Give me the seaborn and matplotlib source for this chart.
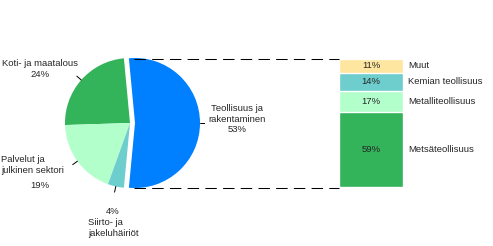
import matplotlib
matplotlib.use("Agg")
import matplotlib.pyplot as plt
import seaborn as sns
import numpy as np
import pandas as pd
from matplotlib.lines import Line2D

sns.set_theme(style="white")
plt.rcParams['font.family'] = ['Liberation Sans', 'DejaVu Sans']

# Pie data (counter-clockwise from right)
pie_labels = ["Teollisuus ja\nrakentaminen", "Koti- ja maatalous", "Palvelut ja\njulkinen sektori", "Siirto- ja\njakeluhäiriöt"]
pie_values = [53, 24, 19, 4]
pie_colors = ["#0080FF", "#33B35A", "#B3FFCC", "#6ECDCD"]

# Bar breakdown of Teollisuus (bottom to top)
bar_labels = ["Metsäteollisuus", "Metalliteollisuus", "Kemian teollisuus", "Muut"]
bar_values = [59, 17, 14, 11]
bar_colors = ["#33B35A", "#B3FFCC", "#6ECDCD", "#FFE6A0"]

W, H = 493, 246
fig = plt.figure(figsize=(W / 100, H / 100), dpi=100)
fs = 6.8

def fx(px):
    return px / W

def fy(py):
    return 1 - py / H

# ---- pie axes ----
cx, cy, R = 130, 123, 65
half = 75
axp = fig.add_axes([fx(cx - half), fy(cy + half), 2 * half / W, 2 * half / H])
lim = half / R
start = -pie_values[0] / 100 * 360 / 2
explode = [0.077, 0, 0, 0]
axp.pie(pie_values, colors=pie_colors, startangle=start, counterclock=True,
        explode=explode, radius=1, wedgeprops=dict(linewidth=0))
axp.set_xlim(-lim, lim)
axp.set_ylim(-lim, lim)
axp.set_aspect('auto')
axp.axis('off')

# leader ticks
cum = np.cumsum([0] + pie_values)
for i, v in enumerate(pie_values):
    mid = np.deg2rad(start + (cum[i] + v / 2) / 100 * 360)
    off = explode[i]
    x0, y0 = (1 + off) * np.cos(mid), (1 + off) * np.sin(mid)
    x1, y1 = (1.09 + off) * np.cos(mid), (1.09 + off) * np.sin(mid)
    axp.plot([x0, x1], [y0, y1], color="black", lw=0.7)

def d(px, py):
    return ((px - cx) / R, (cy - py) / R)

axp.text(*d(40, 69), f"{pie_labels[1]}\n{pie_values[1]}%", ha="center", va="center", fontsize=fs)
axp.text(*d(237, 119), f"{pie_labels[0]}\n{pie_values[0]}%", ha="center", va="center", fontsize=fs)
axp.text(*d(1, 165), pie_labels[2], ha="left", va="center", fontsize=fs)
axp.text(*d(40, 185), f"{pie_values[2]}%", ha="center", va="center", fontsize=fs)
axp.text(*d(113, 211), f"{pie_values[3]}%", ha="center", va="center", fontsize=fs)
axp.text(*d(88, 228), pie_labels[3], ha="left", va="center", fontsize=fs)

# ---- stacked bar axes ----
bx0, bx1, by0, by1 = 339, 403, 59, 187
axb = fig.add_axes([fx(bx0), fy(by1), (bx1 - bx0) / W, (by1 - by0) / H])
cums = np.cumsum(bar_values)
total = cums[-1]
for i in range(len(bar_values) - 1, -1, -1):
    df = pd.DataFrame({"g": ["x"], "v": [cums[i]]})
    sns.barplot(data=df, x="g", y="v", color=bar_colors[i], width=1,
                edgecolor="white", linewidth=1.0, saturation=1, ax=axb)
axb.set_xlim(-0.5, 0.5)
axb.set_ylim(0, total)
axb.axis('off')
prev = 0
for lab, v, c in zip(bar_labels, bar_values, cums):
    mid = c - v / 2
    axb.text(0, mid, f"{v}%", ha="center", va="center", fontsize=fs)
    axb.text(0.5 + 5 / (bx1 - bx0), mid, lab, ha="left", va="center", fontsize=fs,
             transform=axb.transData, clip_on=False)

# dashed connectors
for py in (58.5, 188):
    ln = Line2D([fx(134), fx(bx0)], [fy(py), fy(py)], transform=fig.transFigure,
                color="black", lw=0.75, dashes=(11, 6))
    fig.lines.append(ln)

fig.savefig("out.png", dpi=100, facecolor="white")
